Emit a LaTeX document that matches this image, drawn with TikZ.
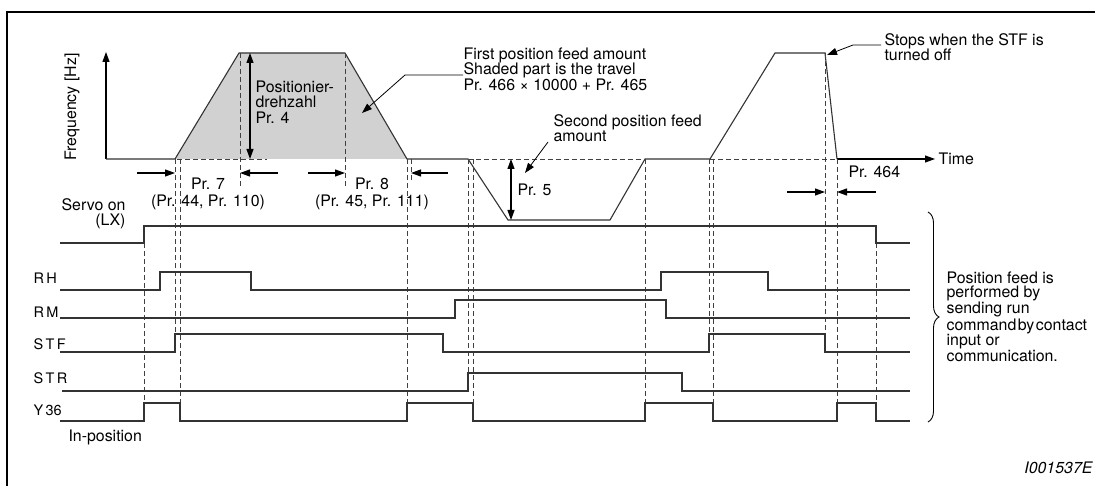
\documentclass[tikz,border=0pt]{standalone}
\usepackage{fontspec}
\setmainfont{TeX Gyre Heros}
\usetikzlibrary{arrows.meta,decorations.pathreplacing}

\begin{document}
\begin{tikzpicture}[x=1pt,y=-1pt,line width=1.1pt,
    sig/.style={black!80,line join=miter},
    vdash/.style={black!75,line width=0.9pt,dash pattern=on 5pt off 3pt},
    tip/.style={-{Triangle[length=10pt,width=7pt]}},
    twotip/.style={{Triangle[length=10pt,width=7pt]}-{Triangle[length=10pt,width=7pt]}},
    txt/.style={font=\fontsize{15.9}{15.5}\selectfont,inner sep=0pt,align=left},
    sname/.style={font=\fontsize{14.5}{14.5}\selectfont,inner sep=0pt,anchor=base west}]
  \useasboundingbox (0,0) rectangle (1095,486);
  \draw[line width=2.5pt] (1095,12) -- (7,12) -- (7,486);
  % frequency curve
  \fill[black!18] (175,159) -- (239,53) -- (345,53) -- (407,159) -- cycle;
  \draw[tip] (106,159) -- (106,52);
  \draw[sig] (106,159) -- (175,159) -- (239,53) -- (345,53) -- (407,159) -- (468,159)
    -- (508,220) -- (610,220) -- (645,159) -- (710,159) -- (775,53) -- (825,53) -- (837,159);
  \draw[tip] (837,159) -- (935,159);
  \draw[vdash] (177,159) -- (267,159);
  \draw[vdash] (468,159) -- (645,159);
  \draw[vdash] (710,159) -- (837,159);
  \node[txt,rotate=90] (freq) at (72,107) {Frequency [Hz]};
  \node[txt,anchor=west] (time) at (938,159) {Time};
  % time marks
  \draw[vdash] (144,243) -- (144,403);
  \draw[vdash] (175,159) -- (175,334);
  \draw[vdash] (180,159) -- (180,403);
  \draw[vdash] (240,53) -- (240,187);
  \draw[vdash] (345,53) -- (345,187);
  \draw[vdash] (407,159) -- (407,403);
  \draw[vdash] (411,159) -- (411,180);
  \draw[vdash] (468,159) -- (468,373);
  \draw[vdash] (473,159) -- (473,403);
  \draw[vdash] (645,159) -- (645,403);
  \draw[vdash] (709,159) -- (709,334);
  \draw[vdash] (713,159) -- (713,403);
  \draw[vdash] (825,53) -- (825,334);
  \draw[vdash] (837,159) -- (837,403);
  \draw[vdash] (876,243) -- (876,403);
  % parameters
  \draw[twotip] (250,53) -- (250,159);
  \node[txt,anchor=north west] (speed) at (255,80) {Positionier-\\drehzahl\\Pr. 4};
  \draw[tip] (137,173) -- (175,173);
  \draw[tip] (278,173) -- (240,173);
  \node[txt] (accel) at (208,184) {Pr. 7};
  \node[txt] (accelb) at (208,202) {(Pr. 44, Pr. 110)};
  \draw[tip] (308,173) -- (345,173);
  \draw[tip] (448,173) -- (411,173);
  \node[txt] (decel) at (372,184) {Pr. 8};
  \node[txt] (decelb) at (372,202) {(Pr. 45, Pr. 111)};
  \draw[twotip] (511,159) -- (511,220);
  \node[txt,anchor=west] (dist) at (517,190) {Pr. 5};
  \draw[tip] (787,192) -- (825,192);
  \draw[tip] (876,192) -- (837,192);
  \node[txt,anchor=west] (stopdelay) at (848,172) {Pr. 464};
  % notes
  \node[txt,anchor=north west] (first) at (463,47) {First position feed amount\\Shaded part is the travel\\Pr. 466 × 10000 + Pr. 465};
  \coordinate (firstknee) at (405,75);
  \coordinate (shadept) at (362,113);
  \draw[tip,line width=0.8pt] (first.west |- firstknee) -- (firstknee) -- (shadept);
  \node[txt,anchor=north west] (second) at (553,114) {Second position feed\\amount};
  \coordinate (secondfoot) at (548,142);
  \coordinate (dippt) at (525,173);
  \draw[tip,line width=0.8pt] (secondfoot) -- (dippt);
  \node[txt,anchor=north west] (stops) at (884,33) {Stops when the STF is\\turned off};
  \coordinate (stopknee) at (853,45);
  \coordinate (stoppt) at (827,55);
  \draw[tip,line width=0.8pt] ([xshift=-3pt]stops.west |- stopknee) -- (stopknee) -- (stoppt);
  % signals
  \node[txt,anchor=south east,align=right,font=\fontsize{15.9}{15}\selectfont] (servo) at (126,229) {Servo on\\(LX)};
  \draw[sig] (60,243) -- (144,243) -- (144,226) -- (876,226) -- (876,243) -- (910,243);
  \node[sname] (rh) at (33,284) {R\,H};
  \draw[sig] (60,290) -- (160,290) -- (160,272) -- (251,272) -- (251,290) -- (661,290)
    -- (661,272) -- (768,272) -- (768,290) -- (910,290);
  \node[sname] (rm) at (33,317) {R\,M};
  \draw[sig] (60,318) -- (455,318) -- (455,300) -- (666,300) -- (666,318) -- (910,318);
  \node[sname] (stf) at (33,349) {S\,T\,F};
  \draw[sig] (60,352) -- (175,352) -- (175,334) -- (443,334) -- (443,352) -- (709,352)
    -- (709,334) -- (825,334) -- (825,352) -- (910,352);
  \node[sname] (str) at (33,383) {S\,T\,R};
  \draw[sig] (62,391) -- (468,391) -- (468,373) -- (682,373) -- (682,391) -- (910,391);
  \node[sname] (yin) at (33,415) {Y\,36};
  \draw[sig] (60,421) -- (144,421) -- (144,403) -- (180,403) -- (180,421) -- (407,421)
    -- (407,403) -- (473,403) -- (473,421) -- (645,421) -- (645,403) -- (713,403)
    -- (713,421) -- (837,421) -- (837,403) -- (876,403) -- (876,421) -- (910,421);
  \node[txt,anchor=base west] (inpos) at (68,441) {In-position};
  % brace
  \draw[line width=0.9pt,decorate,decoration={brace,amplitude=11pt}] (928,212) -- (928,422);
  \node[txt,anchor=west,font=\fontsize{15.9}{14}\selectfont] (feednote) at (946,317)
    {Position feed is\\performed by\\sending run\\command\hspace{1.5pt}by\hspace{1.5pt}contact\\input or\\communication.};
  \node[txt,anchor=base east,font=\fontsize{15.9}{15.5}\selectfont\itshape] (figno) at (1093,473) {I001537E};
\end{tikzpicture}
\end{document}
